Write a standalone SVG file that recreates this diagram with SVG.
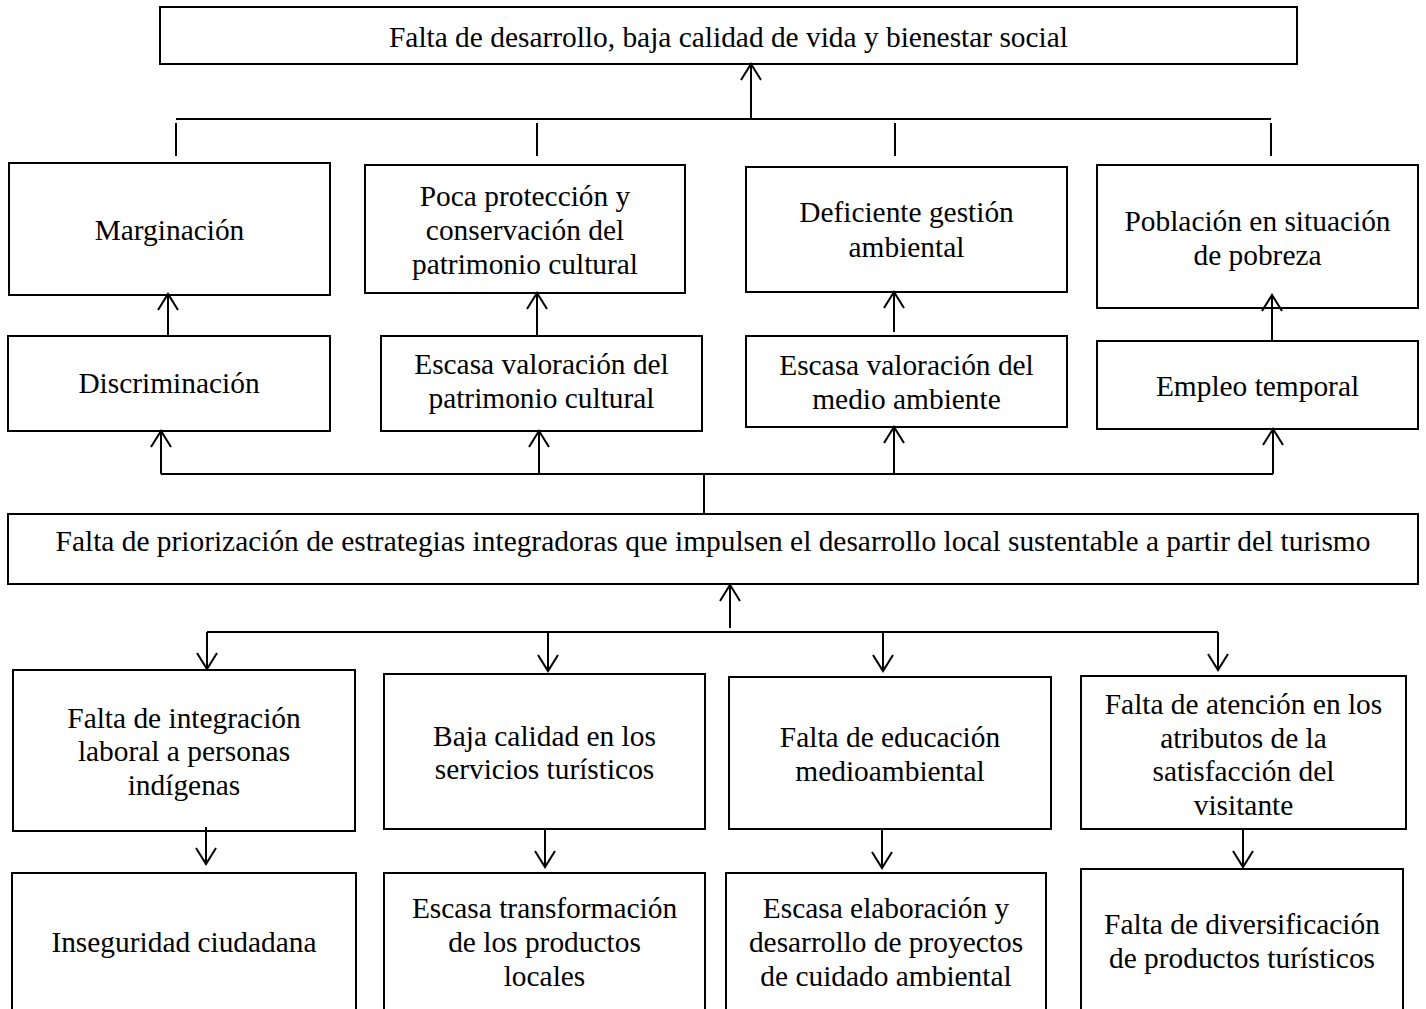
<svg xmlns="http://www.w3.org/2000/svg" width="1426" height="1009" viewBox="0 0 1426 1009">
<style>
.box{fill:#fff;stroke:#000;stroke-width:2}
.t{font-family:"Liberation Serif","Times New Roman",serif;font-size:29.4px;fill:#000;text-anchor:middle}
.c{fill:none;stroke:#000;stroke-width:2}
.a{fill:none;stroke:#000;stroke-width:2;marker-end:url(#ah)}
</style>
<defs>
<marker id="ah" viewBox="-18 -12 20 24" refX="0" refY="0" markerWidth="20" markerHeight="24" markerUnits="userSpaceOnUse" orient="auto">
<path d="M-16,-10 L0,0 L-16,10" fill="none" stroke="#000" stroke-width="2"/>
</marker>
</defs>
<rect width="1426" height="1009" fill="#fff"/>

<g id="n-top">
<rect class="box" x="160" y="7" width="1137" height="57"/>
<text class="t" x="728.5" y="47">Falta de desarrollo, baja calidad de vida y bienestar social</text>
</g>

<g id="n-marginacion">
<rect class="box" x="9" y="163" width="321" height="132"/>
<text class="t" x="169.5" y="240">Marginación</text>
</g>
<g id="n-proteccion">
<rect class="box" x="365" y="165" width="320" height="128"/>
<text class="t" x="525" y="206">Poca protección y</text>
<text class="t" x="525" y="240">conservación del</text>
<text class="t" x="525" y="274">patrimonio cultural</text>
</g>
<g id="n-gestion">
<rect class="box" x="746" y="167" width="321" height="125"/>
<text class="t" x="906.5" y="222">Deficiente gestión</text>
<text class="t" x="906.5" y="257">ambiental</text>
</g>
<g id="n-pobreza">
<rect class="box" x="1097" y="165" width="321" height="143"/>
<text class="t" x="1257.5" y="231">Población en situación</text>
<text class="t" x="1257.5" y="265">de pobreza</text>
</g>

<g id="n-discriminacion">
<rect class="box" x="8" y="336" width="322" height="95"/>
<text class="t" x="169" y="393">Discriminación</text>
</g>
<g id="n-valoracion-patrimonio">
<rect class="box" x="381" y="336" width="321" height="95"/>
<text class="t" x="541.5" y="374">Escasa valoración del</text>
<text class="t" x="541.5" y="408">patrimonio cultural</text>
</g>
<g id="n-valoracion-medio">
<rect class="box" x="746" y="336" width="321" height="91"/>
<text class="t" x="906.5" y="375">Escasa valoración del</text>
<text class="t" x="906.5" y="409">medio ambiente</text>
</g>
<g id="n-empleo">
<rect class="box" x="1097" y="341" width="321" height="88"/>
<text class="t" x="1257.5" y="396">Empleo temporal</text>
</g>

<g id="n-central">
<rect class="box" x="8" y="514" width="1410" height="70"/>
<text class="t" x="713" y="551">Falta de priorización de estrategias integradoras que impulsen el desarrollo local sustentable a partir del turismo</text>
</g>

<g id="n-integracion">
<rect class="box" x="13" y="670" width="342" height="161"/>
<text class="t" x="184" y="728">Falta de integración</text>
<text class="t" x="184" y="761">laboral a personas</text>
<text class="t" x="184" y="795">indígenas</text>
</g>
<g id="n-calidad">
<rect class="box" x="384" y="674" width="321" height="155"/>
<text class="t" x="544.5" y="746">Baja calidad en los</text>
<text class="t" x="544.5" y="779">servicios turísticos</text>
</g>
<g id="n-educacion">
<rect class="box" x="729" y="677" width="322" height="152"/>
<text class="t" x="890" y="747">Falta de educación</text>
<text class="t" x="890" y="781">medioambiental</text>
</g>
<g id="n-atencion">
<rect class="box" x="1081" y="676" width="325" height="153"/>
<text class="t" x="1243.5" y="714">Falta de atención en los</text>
<text class="t" x="1243.5" y="748">atributos de la</text>
<text class="t" x="1243.5" y="781">satisfacción del</text>
<text class="t" x="1243.5" y="815">visitante</text>
</g>

<g id="n-inseguridad">
<rect class="box" x="12" y="873" width="344" height="150"/>
<text class="t" x="184" y="952">Inseguridad ciudadana</text>
</g>
<g id="n-transformacion">
<rect class="box" x="384" y="873" width="321" height="150"/>
<text class="t" x="544.5" y="918">Escasa transformación</text>
<text class="t" x="544.5" y="952">de los productos</text>
<text class="t" x="544.5" y="986">locales</text>
</g>
<g id="n-elaboracion">
<rect class="box" x="726" y="873" width="320" height="150"/>
<text class="t" x="886" y="918">Escasa elaboración y</text>
<text class="t" x="886" y="952">desarrollo de proyectos</text>
<text class="t" x="886" y="986">de cuidado ambiental</text>
</g>
<g id="n-diversificacion">
<rect class="box" x="1081" y="869" width="322" height="154"/>
<text class="t" x="1242" y="934">Falta de diversificación</text>
<text class="t" x="1242" y="968">de productos turísticos</text>
</g>

<g id="connectors">
<path class="c" d="M176 119 H1271"/>
<path class="a" d="M751 119 V64"/>
<path class="c" d="M176 123 V156 M537 123 V156 M895 123 V156 M1271 123 V156"/>
<path class="a" d="M168 336 V294"/>
<path class="a" d="M537 336 V293"/>
<path class="a" d="M894 332 V292"/>
<path class="a" d="M1272 341 V295"/>
<path class="c" d="M161 474 H1273"/>
<path class="c" d="M704 474 V514"/>
<path class="a" d="M161 474 V431"/>
<path class="a" d="M539 474 V431"/>
<path class="a" d="M894 474 V427"/>
<path class="a" d="M1273 474 V429"/>
<path class="a" d="M730 628 V585"/>
<path class="c" d="M207 632 H1218"/>
<path class="a" d="M207 632 V669"/>
<path class="a" d="M548 632 V671"/>
<path class="a" d="M883 632 V671"/>
<path class="a" d="M1218 632 V670"/>
<path class="a" d="M206 827 V864"/>
<path class="a" d="M545 829 V867"/>
<path class="a" d="M882 829 V868"/>
<path class="a" d="M1243 829 V867"/>
</g>
</svg>
